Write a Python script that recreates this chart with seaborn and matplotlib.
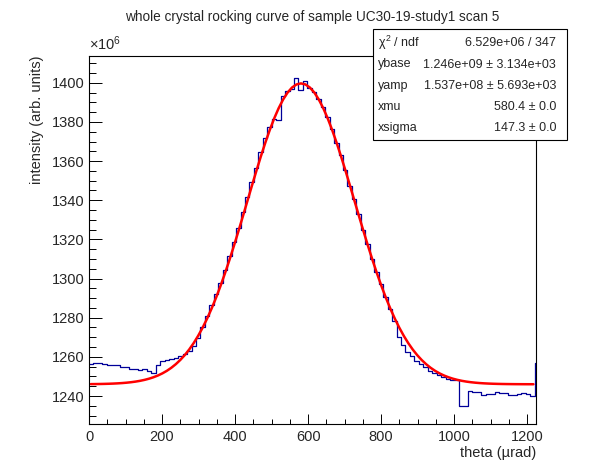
import numpy as np
import matplotlib
matplotlib.use("Agg")
import matplotlib.pyplot as plt
from matplotlib.ticker import MultipleLocator
from matplotlib.patches import Rectangle
import seaborn as sns

# -----------------------------
# Data (intensity in units of 1e6)
# -----------------------------
theta_edges = list(np.linspace(0, 1220.4, 101)) + [1224.0]
intensity = [
    1256.2, 1256.8, 1257.0, 1256.5, 1256.0, 1255.6, 1255.8, 1255.0, 1254.6, 1253.8,
    1254.0, 1253.4, 1253.6, 1253.0, 1252.0, 1256.0, 1258.0, 1258.2, 1258.8, 1259.4,
    1260.4, 1261.6, 1262.8, 1265.5, 1269.5, 1275.0, 1280.8, 1286.5, 1292.0, 1297.5,
    1304.5, 1311.5, 1318.5, 1326.0, 1334.0, 1341.5, 1349.5, 1356.5, 1364.5, 1372.0,
    1377.5, 1381.5, 1381.0, 1393.5, 1396.0, 1397.0, 1402.5, 1396.5, 1401.0, 1397.5,
    1395.5, 1391.5, 1387.5, 1382.5, 1376.5, 1369.5, 1363.0, 1355.5, 1347.5, 1340.5,
    1333.0, 1325.0, 1317.5, 1310.0, 1303.5, 1297.0, 1290.5, 1284.5, 1278.5, 1270.0,
    1266.0, 1262.5, 1260.5, 1258.0, 1256.5, 1255.0, 1253.0, 1251.8, 1250.5, 1249.5,
    1248.5, 1248.2, 1248.0, 1235.0, 1234.8, 1242.5, 1242.3, 1242.0, 1240.5, 1240.8,
    1241.2, 1242.0, 1241.3, 1241.3, 1240.6, 1240.4, 1241.2, 1241.6, 1240.8, 1240.0,
    1257.0,
]
theta_centers = [(a + b) / 2 for a, b in zip(theta_edges[:-1], theta_edges[1:])]

# fit parameters from the stats box
ybase = 1246.0
yamp = 153.7
xmu = 580.4
xsigma = 147.3
fit_range = (5.0, 1217.0)

stats_labels = ["$\\chi^{2}$ / ndf", "ybase", "yamp", "xmu", "xsigma"]
stats_values = ["6.529e+06 / 347", "1.246e+09 \u00b1 3.134e+03",
                "1.537e+08 \u00b1 5.693e+03", "580.4 \u00b1 0.0", "147.3 \u00b1 0.0"]

# -----------------------------
# Style
# -----------------------------
sns.set_style("ticks")
plt.rcParams['font.family'] = ['Liberation Sans', 'DejaVu Sans']
plt.rcParams['mathtext.fontset'] = 'custom'
plt.rcParams['mathtext.rm'] = 'Liberation Sans'
plt.rcParams['mathtext.it'] = 'Liberation Sans'

fig = plt.figure(figsize=(5.96, 4.72), dpi=100)
ax = fig.add_axes([89 / 596, 1 - 424 / 472, (536 - 89) / 596, (424 - 56) / 472])

# histogram
sns.histplot(x=theta_centers, weights=intensity, bins=theta_edges, element="step",
             fill=False, color="#000099", linewidth=0.9, ax=ax)

# gaussian fit curve
fit_x = np.linspace(fit_range[0], fit_range[1], 100)
fit_y = ybase + yamp * np.exp(-0.5 * ((fit_x - xmu) / xsigma) ** 2)
sns.lineplot(x=fit_x, y=fit_y, color="#ff0000", linewidth=1.8, ax=ax)

ax.set_xlim(0, 1224)
ax.set_ylim(1225.7, 1413.7)
ax.xaxis.set_major_locator(MultipleLocator(200))
ax.xaxis.set_minor_locator(MultipleLocator(50))
ax.yaxis.set_major_locator(MultipleLocator(20))
ax.yaxis.set_minor_locator(MultipleLocator(5))
ax.tick_params(which="both", direction="in", top=False, right=False,
               labelsize=10.5, width=0.7, color="black")
ax.tick_params(axis="x", which="major", length=7.2, pad=4)
ax.tick_params(axis="x", which="minor", length=3.4)
ax.tick_params(axis="y", which="major", length=9.5, pad=3)
ax.tick_params(axis="y", which="minor", length=5)
for sp in ax.spines.values():
    sp.set_visible(True)
    sp.set_linewidth(0.8)
    sp.set_color("black")

ax.set_xlabel("theta (\u00b5rad)", loc="right", fontsize=10.5, labelpad=2)
ax.set_ylabel("intensity (arb. units)", loc="top", fontsize=10.5, labelpad=6)
ax.text(0.0, 1.008, "\u00d710$^{6}$", transform=ax.transAxes, fontsize=10.5,
        ha="left", va="bottom")

fig.text(0.524, 1 - 17 / 472, "whole crystal rocking curve of sample UC30-19-study1 scan 5",
         ha="center", va="center", fontsize=9.8)

# stats box
fig.patches.append(Rectangle((373 / 596, 1 - 140 / 472), (567 - 373) / 596, (140 - 29) / 472,
                             transform=fig.transFigure, facecolor="white",
                             edgecolor="black", linewidth=0.8, zorder=5))
row_y = [43, 64.5, 86, 107, 128]
for lab, val, yy in zip(stats_labels, stats_values, row_y):
    fig.text(378 / 596, 1 - yy / 472, lab, ha="left", va="center", fontsize=9.0, zorder=6)
    fig.text(556 / 596, 1 - yy / 472, val, ha="right", va="center", fontsize=9.0, zorder=6)

fig.savefig("out.png", dpi=100)
